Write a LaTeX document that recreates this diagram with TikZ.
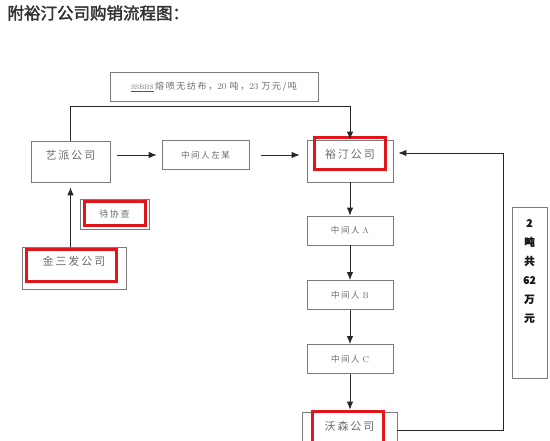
\documentclass[tikz,border=0pt]{standalone}
\usepackage{fontspec}
\usepackage{tikz}
\usetikzlibrary{shapes, arrows.meta}

\newfontfamily\cjk{Noto Sans CJK SC}
\newfontfamily\cjkwide[LetterSpace=18]{Noto Sans CJK SC}
\newfontfamily\cjktitle[FakeBold=2]{Noto Sans CJK SC}
\newfontfamily\cjkbold[FakeBold=0.8]{Noto Sans CJK SC}

\definecolor{boxgray}{HTML}{7A7A7A}
\definecolor{textgray}{HTML}{6A6A6A}
\definecolor{markred}{HTML}{E3151C}

\begin{document}
\begin{tikzpicture}[x=1pt, y=-1pt]
      \tikzstyle{company} = [
        rectangle,
        draw=boxgray,
        line width=0.8pt,
        minimum width=79pt,
        minimum height=41pt,
        text=textgray,
        font=\fontsize{11}{11}\cjkwide,
        text height=0.8em,
        text depth=1.22em,
        inner sep=0pt
      ]

      \tikzstyle{middleman} = [
        rectangle,
        draw=boxgray,
        line width=0.8pt,
        minimum width=86pt,
        minimum height=29pt,
        text=textgray,
        font=\fontsize{8.5}{8.5}\selectfont,
        inner sep=0pt
      ]

      \tikzstyle{highlight} = [
        rectangle,
        draw=markred,
        line width=3pt,
        inner sep=0pt
      ]

      \tikzstyle{link} = [
        draw=black!85,
        line width=0.9pt,
        -{Latex[length=8pt, width=6.5pt]}
      ]

      \useasboundingbox (0,0) rectangle (550,441);

      \node[anchor=west, text=black!80, font=\fontsize{16.5}{16.5}\cjktitle]
      (title) at (4,13) {附裕汀公司购销流程图：};

      \node[rectangle, draw=boxgray, line width=0.8pt, minimum width=208pt,
        minimum height=29pt, text=textgray, inner sep=0pt,
        font=\fontsize{9}{9}\selectfont] (price) at (214,86.5)
      {\textcolor{markred}{\underline{\textcolor{textgray}{\fontsize{6.5}{6.5}\selectfont
      SSBBS}}}\,{\cjkwide 熔喷无纺布，}20 {\cjkwide 吨，}23 {\cjkwide 万元/吨}};

      \node[company] (yipai) at (70.5,161.5) {艺派公司};
      \node[middleman, minimum width=87pt] (zuomou) at (205.5,155)
      {\cjkwide 中间人左某};
      \node[company, minimum width=86pt, minimum height=42pt] (yuting)
      at (350,161) {裕汀公司};
      \node[middleman] (ma) at (350,230.5) {{\cjkwide 中间人} A};
      \node[middleman] (mb) at (350,295) {{\cjkwide 中间人} B};
      \node[middleman] (mc) at (350,359) {{\cjkwide 中间人} C};
      \node[company, minimum width=95pt] (wosen) at (349.5,432.5) {沃森公司};

      \node[company, minimum width=104pt, minimum height=42pt] (jinsanfa)
      at (74,268) {金三发公司};
      \node[middleman, minimum width=69pt, minimum height=30pt,
        font=\fontsize{9}{9}\cjkwide] (daixiecha) at (114.5,214) {待协查};

      \node[rectangle, draw=boxgray, line width=0.8pt, minimum width=35pt,
        minimum height=171pt,
        label={[anchor=north, yshift=-9pt, align=center, text=black!90,
          font=\fontsize{10.5}{19}\bfseries\cjkbold]north:2\\吨\\共\\62\\万\\元}]
      (total) at (529.5,292.5) {};

      % red marks
      \node[highlight, minimum width=71pt, minimum height=32pt] (yutingmark)
      at (350,153.5) {};
      \node[highlight, minimum width=71pt, minimum height=34.5pt] (wosenmark)
      at (348,428.75) {};
      \node[highlight, minimum width=90pt, minimum height=32pt] (jinsanfamark)
      at (71.5,265.5) {};
      \node[highlight, minimum width=61pt, minimum height=24pt] (daixiechamark)
      at (115,213.5) {};

      \draw[link] (yipai.north) -- ++(0,-34) -| (yuting.north);
      \draw[link, shorten <=7pt, shorten >=5pt]
      (yipai.east |- zuomou.west) -- (zuomou.west);
      \draw[link, shorten <=12pt, shorten >=7pt]
      (zuomou.east) -- (zuomou.east -| yuting.west);
      \draw[link] (yuting.south) -- (ma.north);
      \draw[link] (ma.south) -- (mb.north);
      \draw[link] (mb.south) -- (mc.north);
      \draw[link, shorten >=2pt] (mc.south) -- (mc.south |- wosen.north);
      \draw[link, shorten >=5pt] ([yshift=2.5pt]wosen.east) -- ++(106,0)
      |- ([yshift=8pt]yuting.east);
      \draw[link, shorten >=5pt] (jinsanfa.north -| yipai.south)
      -- (yipai.south);
    \end{tikzpicture}
\end{document}
